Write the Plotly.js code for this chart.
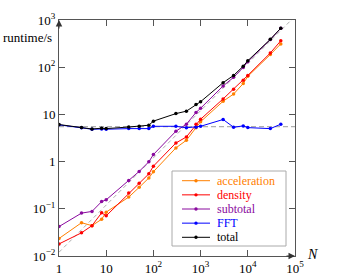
<!DOCTYPE html>
<html>
<head>
<meta charset="utf-8">
<script src="https://cdn.plot.ly/plotly-3.0.1.min.js"></script>
<style>
  html, body { margin: 0; padding: 0; background: #fff; }
  #chart { width: 355px; height: 276px; }
</style>
</head>
<body>
<div id="chart"></div>
<script>
// Data
var N = [1, 3, 5, 8, 10, 30, 50, 80, 100, 300, 500, 800, 1000, 3000, 5000, 8000, 10000, 30000, 50000];
var acceleration = [0.0235, 0.0507, 0.044, 0.06, 0.085, 0.177, 0.285, 0.45, 0.61, 1.95, 2.83, 5.2, 7.0, 19, 27, 45, 64, 185, 312];
var density = [0.018, 0.031, 0.044, 0.082, 0.071, 0.215, 0.346, 0.55, 0.8, 2.48, 3.33, 6.2, 7.9, 21.3, 34, 53, 67, 200, 363];
var subtotal = [0.042, 0.081, 0.088, 0.142, 0.155, 0.40, 0.62, 0.99, 1.41, 4.4, 6.2, 11.0, 13.5, 40, 61, 99, 131, 385, 668];
var fft = [6.0, 5.2, 4.85, 4.9, 4.85, 5.0, 5.0, 5.0, 5.6, 5.6, 5.2, 5.35, 5.6, 7.8, 5.35, 5.7, 5.25, 5.0, 6.2];
var total = [6.1, 5.3, 4.9, 5.1, 5.0, 5.4, 5.6, 5.9, 7.2, 10.4, 11.7, 16.2, 18.6, 47, 67, 105, 137, 389, 672];

// Reference (dashed) lines
var diagX = [1, 100000];
var diagY = [0.012, 1200];
var flatX = [1, 100000];
var flatY = [5.5, 5.5];

var tickVals = [1, 10, 100, 1000, 10000, 100000];
var xTickText = ['1', '10', '10<sup>2</sup>', '10<sup>3</sup>', '10<sup>4</sup>', '10<sup>5</sup>'];
var yTickVals = [0.01, 0.1, 1, 10, 100, 1000];
var yTickText = ['10<sup>\u22122</sup>', '10<sup>\u22121</sup>', '1', '10', '10<sup>2</sup>', '10<sup>3</sup>'];

var seriesNames = ['acceleration', 'density', 'subtotal', 'FFT', 'total'];
var seriesData = [acceleration, density, subtotal, fft, total];
var seriesColors = ['#ff8000', '#ff0000', '#8a0a9e', '#0000ff', '#000000'];

var SERIF = 'Liberation Serif';

var traces = [
  { x: diagX, y: diagY, mode: 'lines', line: { color: '#b0b0b0', width: 1, dash: '4px,3px' }, showlegend: false, hoverinfo: 'skip' },
  { x: flatX, y: flatY, mode: 'lines', line: { color: '#b0b0b0', width: 1.3, dash: '5px,3px' }, showlegend: false, hoverinfo: 'skip' }
];
for (var i = 0; i < seriesNames.length; i++) {
  traces.push({
    x: N, y: seriesData[i], mode: 'lines+markers', name: seriesNames[i], showlegend: false,
    line: { color: seriesColors[i], width: 1 },
    marker: { color: seriesColors[i], size: 3.5 }
  });
}

var axisCommon = {
  type: 'log', showgrid: false, zeroline: false,
  showline: true, linecolor: '#555', linewidth: 1,
  mirror: 'ticks', ticks: 'inside', ticklen: 6, tickcolor: '#555', tickwidth: 1,
  tickfont: { family: SERIF, size: 13, color: '#000' }
};

// Plot area geometry in pixels (for the hand-placed legend box)
var W = 355, H = 276, ML = 59, MR = 60, MT = 20, MB = 20;
var PW = W - ML - MR, PH = H - MT - MB;
function px(x) { return (x - ML) / PW; }
function py(y) { return (H - MB - y) / PH; }

var shapes = [
  { type: 'rect', xref: 'paper', yref: 'paper', x0: px(172), x1: px(286), y0: py(246), y1: py(171),
    line: { color: '#aaa', width: 1 }, fillcolor: '#fff', layer: 'above' }
];
var annotations = [
  { xref: 'paper', yref: 'paper', x: 0, y: py(37), xanchor: 'right', yanchor: 'middle', xshift: -5,
    text: 'runtime/s', showarrow: false, font: { family: SERIF, size: 13, color: '#000' } },
  { xref: 'paper', yref: 'paper', x: 1, y: 0, xanchor: 'left', yanchor: 'middle', xshift: 10, yshift: 2,
    text: '<i>N</i>', showarrow: false, font: { family: SERIF, size: 14, color: '#000' } },
  { xref: 'paper', yref: 'paper', x: 0, y: 1, ax: 0, ay: 10, axref: 'pixel', ayref: 'pixel',
    text: '', showarrow: true, arrowhead: 2, arrowsize: 1.3, arrowwidth: 1, arrowcolor: '#333', standoff: -2 },
  { xref: 'paper', yref: 'paper', x: 1, y: 0, ax: -10, ay: 0, axref: 'pixel', ayref: 'pixel',
    text: '', showarrow: true, arrowhead: 2, arrowsize: 1.3, arrowwidth: 1, arrowcolor: '#333', standoff: -2 }
];
for (var k = 0; k < seriesNames.length; k++) {
  var ey = 180.7 + k * 14.15;
  shapes.push({ type: 'line', xref: 'paper', yref: 'paper', x0: px(182), x1: px(210), y0: py(ey), y1: py(ey),
    line: { color: seriesColors[k], width: 1 }, layer: 'above' });
  shapes.push({ type: 'circle', xref: 'paper', yref: 'paper', x0: px(194.3), x1: px(197.7), y0: py(ey + 1.7), y1: py(ey - 1.7),
    line: { width: 0 }, fillcolor: seriesColors[k], layer: 'above' });
  annotations.push({ xref: 'paper', yref: 'paper', x: px(215), y: py(ey), xanchor: 'left', yanchor: 'middle',
    text: seriesNames[k], showarrow: false, font: { family: SERIF, size: 12, color: seriesColors[k] } });
}

var layout = {
  width: W, height: H,
  margin: { l: ML, r: MR, t: MT, b: MB, pad: 0 },
  paper_bgcolor: '#fff', plot_bgcolor: '#fff',
  font: { family: SERIF, size: 12, color: '#000' },
  xaxis: Object.assign({}, axisCommon, { range: [0, 5], tickvals: tickVals, ticktext: xTickText }),
  yaxis: Object.assign({}, axisCommon, { range: [-2, 3], tickvals: yTickVals, ticktext: yTickText }),
  showlegend: false,
  shapes: shapes,
  annotations: annotations
};

Plotly.newPlot('chart', traces, layout, { staticPlot: true, displayModeBar: false });
</script>
</body>
</html>
